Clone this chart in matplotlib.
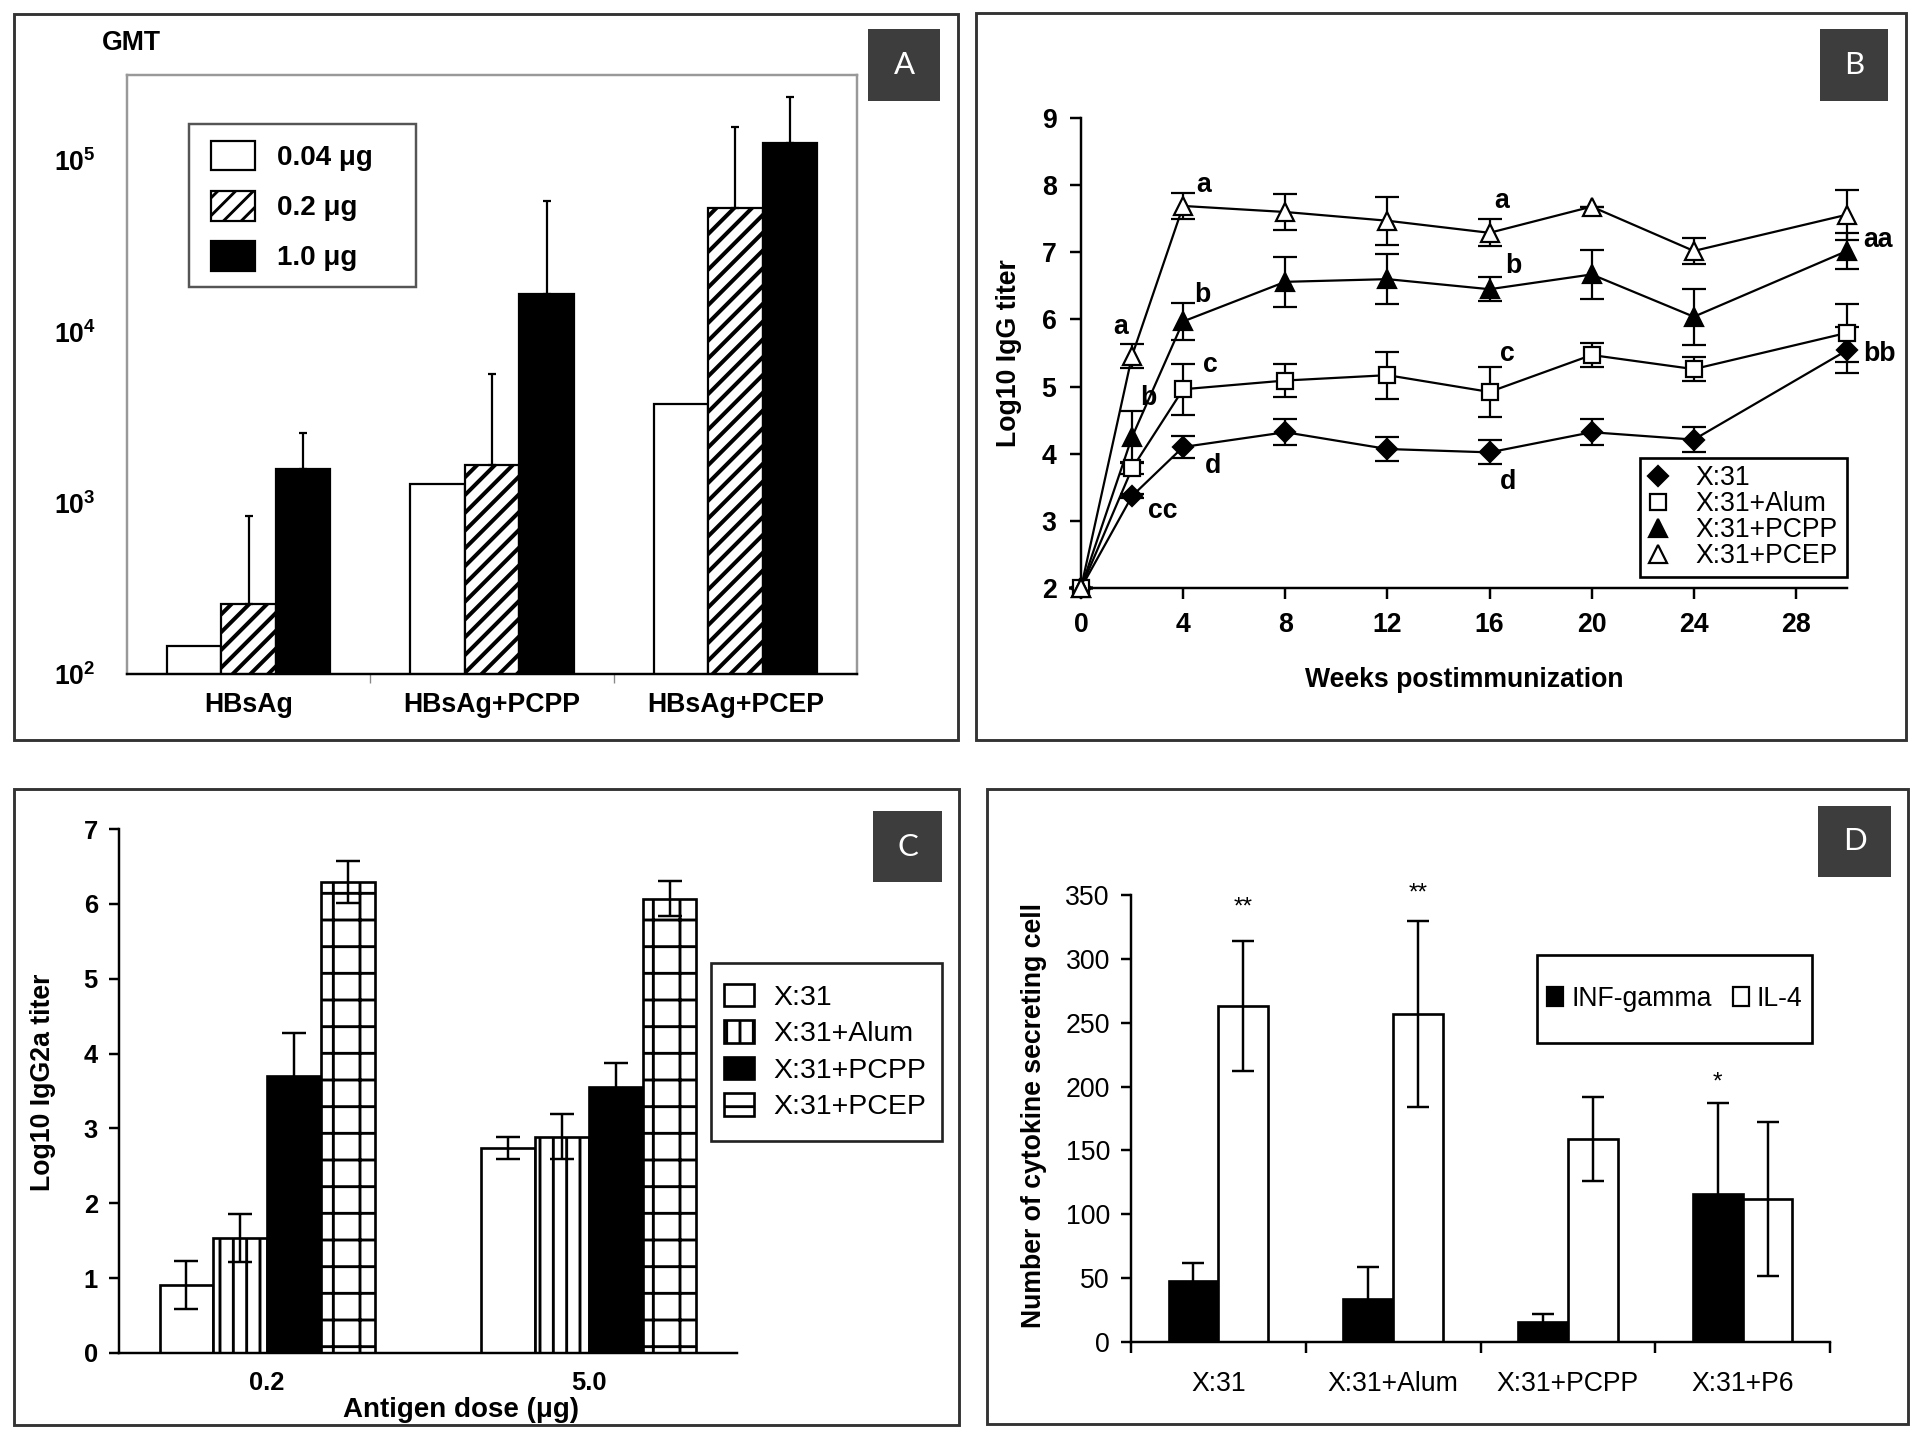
import matplotlib
matplotlib.use('Agg')
import matplotlib.pyplot as plt
from matplotlib.patches import Rectangle, Patch
from matplotlib.lines import Line2D
from matplotlib.ticker import NullLocator
import numpy as np

plt.rcParams['font.family'] = ['Liberation Sans', 'DejaVu Sans']
plt.rcParams['mathtext.fontset'] = 'custom'
plt.rcParams['mathtext.rm'] = 'Liberation Sans'
plt.rcParams['mathtext.bf'] = 'Liberation Sans:bold'
plt.rcParams['hatch.linewidth'] = 1.3

# ---- panel A : GMT per dose (log scale) ----
a_groups = ['HBsAg', 'HBsAg+PCPP', 'HBsAg+PCEP']
a_doses = ['0.04 μg', '0.2 μg', '1.0 μg']
a_gmt_004 = [145, 1290, 3780]
a_gmt_02 = [258, 1660, 53000]
a_gmt_10 = [1580, 16500, 126000]
a_top_02 = [835, 5690, 157800]
a_top_10 = [2570, 58300, 234000]

# ---- panel B : IgG titer over time ----
weeks = [0, 2, 4, 8, 12, 16, 20, 24, 30]
b_names = ['X:31', 'X:31+Alum', 'X:31+PCPP', 'X:31+PCEP']
b_x31 = [2.0, 3.37, 4.10, 4.32, 4.07, 4.02, 4.32, 4.21, 5.54]
b_x31_err = [0, 0.03, 0.17, 0.19, 0.18, 0.18, 0.19, 0.19, 0.34]
b_alum = [2.0, 3.78, 4.96, 5.09, 5.17, 4.92, 5.47, 5.26, 5.80]
b_alum_err = [0, 0.08, 0.38, 0.24, 0.35, 0.37, 0.18, 0.18, 0.43]
b_pcpp = [2.0, 4.25, 5.97, 6.56, 6.60, 6.45, 6.67, 6.04, 7.02]
b_pcpp_err = [0, 0.38, 0.27, 0.37, 0.37, 0.18, 0.36, 0.42, 0.27]
b_pcep = [2.0, 5.46, 7.69, 7.60, 7.47, 7.29, 7.68, 7.02, 7.56]
b_pcep_err = [0, 0.18, 0.2, 0.27, 0.36, 0.2, 0.0, 0.2, 0.37]
b_letters = [('a', 4.81, 8.0), ('a', 1.55, 5.88), ('a', 16.49, 7.77),
             ('b', 4.77, 6.36), ('b', 2.62, 4.83), ('b', 16.92, 6.79),
             ('c', 5.05, 5.32), ('c', 16.68, 5.49),
             ('d', 5.17, 3.82), ('d', 16.73, 3.58),
             ('cc', 3.22, 3.15), ('aa', 31.2, 7.18), ('bb', 31.26, 5.49)]

# ---- panel C : IgG2a titer ----
c_doses = ['0.2', '5.0']
c_x31 = [0.91, 2.74]
c_x31_err = [0.32, 0.15]
c_alum = [1.54, 2.89]
c_alum_err = [0.32, 0.30]
c_pcpp = [3.70, 3.55]
c_pcpp_err = [0.57, 0.33]
c_pcep = [6.29, 6.07]
c_pcep_err = [0.28, 0.23]

# ---- panel D : cytokine secreting cells ----
d_groups = ['X:31', 'X:31+Alum', 'X:31+PCPP', 'X:31+P6']
d_ifn = [48, 34, 16, 116]
d_ifn_err = [14, 25, 6, 71]
d_il4 = [263, 257, 159, 112]
d_il4_err = [51, 73, 33, 60]
d_stars = [('**', 0, 'il4', 340), ('**', 1, 'il4', 351), ('*', 3, 'ifn', 203)]

W, H = 1920, 1441
DPI = 160
fig = plt.figure(figsize=(W / DPI, H / DPI), dpi=DPI)
FS = 12


def ax_at(l, t, r, b):
    return fig.add_axes([l / W, 1 - b / H, (r - l) / W, (b - t) / H])


def rect(l, t, r, b, **kw):
    fig.add_artist(Rectangle((l / W, 1 - b / H), (r - l) / W, (b - t) / H,
                             transform=fig.transFigure, **kw))


def label_box(l, t, r, b, letter):
    rect(l, t, r, b, facecolor='#3d3d3d', edgecolor='none')
    fig.text((l + r) / 2 / W, 1 - (t + b) / 2 / H, letter, color='white',
             fontsize=14, ha='center', va='center', family='Lato')


def bold_ticks(ax, size=FS):
    for t in ax.get_xticklabels() + ax.get_yticklabels():
        t.set_fontweight('bold')
        t.set_fontsize(size)


# frames around the panels
for box in [(14, 14, 958, 740), (976, 13, 1906, 740),
            (14, 789, 959, 1425), (987, 789, 1908, 1424)]:
    rect(*box, fill=False, edgecolor='#333333', lw=1.3)

# ================= A =================
axA = ax_at(127, 75, 857, 674)
axA.set_yscale('log')
xa = np.arange(len(a_groups))
bw = 0.224
with plt.rc_context({'hatch.linewidth': 1.8}):
    axA.bar(xa - bw, a_gmt_004, bw, color='white', edgecolor='black', lw=1)
    axA.bar(xa, a_gmt_02, bw, color='white', edgecolor='black', lw=1, hatch='///')
    axA.bar(xa + bw, a_gmt_10, bw, color='black', edgecolor='black', lw=1)
axA.errorbar(xa, a_gmt_02, yerr=[np.zeros(3), np.array(a_top_02) - np.array(a_gmt_02)],
             fmt='none', ecolor='black', elinewidth=1, capsize=2)
axA.errorbar(xa + bw, a_gmt_10, yerr=[np.zeros(3), np.array(a_top_10) - np.array(a_gmt_10)],
             fmt='none', ecolor='black', elinewidth=1, capsize=2)
axA.set_xlim(-0.5, 2.5)
axA.set_ylim(100, 10 ** 5.5)
axA.set_yticks([1e2, 1e3, 1e4, 1e5])
axA.set_yticklabels([r'$\mathbf{10^{%d}}$' % k for k in range(2, 6)])
axA.yaxis.set_minor_locator(NullLocator())
axA.set_xticks(xa)
axA.set_xticklabels(a_groups)
axA.set_xticks([0.5, 1.5], minor=True)
axA.tick_params(axis='y', length=0, pad=14)
axA.tick_params(axis='x', which='major', length=0, pad=8)
axA.tick_params(axis='x', which='minor', length=4, color='#888888')
for s in ['top', 'right', 'left']:
    axA.spines[s].set_color('#999999')
axA.spines['bottom'].set_color('black')
for s in axA.spines.values():
    s.set_linewidth(1.1)
bold_ticks(axA)
fig.text(131 / W, 1 - 43 / H, 'GMT', fontsize=FS, fontweight='bold', ha='center', va='center')
rect(189, 124, 416, 287, fill=False, edgecolor='#555555', lw=1.1)
a_handles = [Patch(facecolor='white', edgecolor='black', lw=1),
             Patch(facecolor='white', edgecolor='black', lw=1, hatch='///'),
             Patch(facecolor='black', edgecolor='black', lw=1)]
fig.legend(a_handles, a_doses, loc='center left', bbox_to_anchor=(211 / W, 1 - 206 / H),
           frameon=False, borderpad=0, borderaxespad=0, handlelength=1.57, handleheight=1.27,
           handletextpad=0.8, labelspacing=0.72, prop={'weight': 'bold', 'size': 12.5})
label_box(868, 29, 940, 101, 'A')

# ================= B =================
axB = ax_at(1081, 118, 1847, 588)
series = [(b_x31, b_x31_err, 'D', 'black', 6.2),
          (b_alum, b_alum_err, 's', 'white', 7.5),
          (b_pcpp, b_pcpp_err, '^', 'black', 8.5),
          (b_pcep, b_pcep_err, '^', 'white', 8.5)]
b_handles = []
for vals, err, mk, fc, ms in series:
    axB.errorbar(weeks, vals, yerr=err, color='black', lw=1.0, elinewidth=1.0,
                 capsize=5.5, capthick=1.0, marker=mk, mfc=fc, mec='black',
                 mew=1.0, ms=ms, clip_on=False, zorder=3)
    b_handles.append(Line2D([], [], ls='none', marker=mk, mfc=fc, mec='black', mew=1.0, ms=ms))
for txt, x, y in b_letters:
    axB.text(x, y, txt, fontsize=FS, fontweight='bold', ha='center', va='center')
axB.set_xlim(0, 30)
axB.set_ylim(2, 9)
axB.set_xticks(range(0, 29, 4))
axB.set_yticks(range(2, 10))
axB.spines['top'].set_visible(False)
axB.spines['right'].set_visible(False)
for s in ['left', 'bottom']:
    axB.spines[s].set_linewidth(1.1)
axB.tick_params(length=5, width=1.1, pad=6)
bold_ticks(axB)
axB.set_xlabel('Weeks postimmunization', fontsize=FS, fontweight='bold', labelpad=13)
axB.set_ylabel('Log10 IgG titer', fontsize=FS, fontweight='bold', labelpad=9)
rect(1640, 458, 1847, 577, facecolor='white', edgecolor='black', lw=1.2, zorder=5)
fig.legend(b_handles, b_names, loc='center left', bbox_to_anchor=(1650 / W, 1 - 517 / H),
           frameon=False, borderpad=0, borderaxespad=0, handlelength=0.6, handletextpad=1.1,
           labelspacing=0.0, fontsize=12).set_zorder(6)
label_box(1820, 29, 1888, 101, 'B')

# ================= C =================
axC = ax_at(119, 829, 737, 1353)
xc = np.arange(len(c_doses))
cw = 0.167
offs = [-1.5 * cw, -0.5 * cw, 0.5 * cw, 1.5 * cw]
c_series = [(c_x31, c_x31_err, 'white', None), (c_alum, c_alum_err, 'white', '||'),
            (c_pcpp, c_pcpp_err, 'black', None), (c_pcep, c_pcep_err, 'white', '+')]
for (vals, err, fc, hatch), off in zip(c_series, offs):
    axC.bar(xc + off, vals, cw, color=fc, edgecolor='black', lw=1.2, hatch=hatch)
    axC.errorbar(xc + off, vals, yerr=err, fmt='none', ecolor='black',
                 elinewidth=1.1, capsize=5.5, capthick=1.1)
axC.set_xlim(-0.46, 1.46)
axC.set_ylim(0, 7)
axC.set_xticks(xc)
axC.set_xticklabels(c_doses)
axC.set_yticks(range(0, 8))
axC.spines['top'].set_visible(False)
axC.spines['right'].set_visible(False)
for s in ['left', 'bottom']:
    axC.spines[s].set_linewidth(1.1)
axC.tick_params(axis='y', length=4.5, width=1.1, pad=5)
axC.tick_params(axis='x', length=0, pad=8)
bold_ticks(axC, 11.5)
fig.text(461 / W, 1 - 1410 / H, 'Antigen dose (μg)', fontsize=12.5, fontweight='bold',
         ha='center', va='center')
fig.text(43 / W, 1 - 1082 / H, 'Log10 IgG2a titer', fontsize=FS, fontweight='bold',
         ha='center', va='center', rotation=90)
rect(711, 963, 942, 1141, facecolor='white', edgecolor='#222222', lw=1.2)
c_handles = [Patch(facecolor='white', edgecolor='black', lw=1.2),
             Patch(facecolor='white', edgecolor='black', lw=1.2, hatch='||'),
             Patch(facecolor='black', edgecolor='black', lw=1.2),
             Patch(facecolor='white', edgecolor='black', lw=1.2, hatch='-')]
fig.legend(c_handles, b_names, loc='center left', bbox_to_anchor=(724 / W, 1 - 1052 / H),
           frameon=False, borderpad=0, borderaxespad=0, handlelength=1.05, handleheight=0.85,
           handletextpad=0.7, labelspacing=0.33, fontsize=12.8)
label_box(873, 811, 942, 882, 'C')

# ================= D =================
axD = ax_at(1131, 895, 1830, 1342)
xd = np.arange(len(d_groups))
dw = 0.285
axD.bar(xd - dw / 2, d_ifn, dw, color='black', edgecolor='black', lw=1.2)
axD.bar(xd + dw / 2, d_il4, dw, color='white', edgecolor='black', lw=1.2)
axD.errorbar(xd - dw / 2, d_ifn, yerr=d_ifn_err, fmt='none', ecolor='black',
             elinewidth=1.1, capsize=5, capthick=1.1)
axD.errorbar(xd + dw / 2, d_il4, yerr=d_il4_err, fmt='none', ecolor='black',
             elinewidth=1.1, capsize=5, capthick=1.1)
for txt, i, which, y in d_stars:
    x = i + dw / 2 if which == 'il4' else i - dw / 2
    axD.text(x, y, txt, fontsize=11, ha='center', va='center')
axD.set_xlim(-0.5, 3.5)
axD.set_ylim(0, 350)
axD.set_yticks(range(0, 351, 50))
axD.set_xticks(np.arange(-0.5, 3.6, 1.0))
axD.set_xticklabels([])
axD.set_xticks(xd, minor=True)
axD.set_xticklabels(d_groups, minor=True)
axD.tick_params(axis='x', which='minor', length=0, pad=13, labelsize=12)
axD.tick_params(axis='x', which='major', length=5, width=1.1)
axD.tick_params(axis='y', length=4.5, width=1.1, pad=5, labelsize=12)
axD.spines['top'].set_visible(False)
axD.spines['right'].set_visible(False)
for s in ['left', 'bottom']:
    axD.spines[s].set_linewidth(1.1)
fig.text(1034 / W, 1 - 1116 / H, 'Number of cytokine secreting cell', fontsize=FS,
         fontweight='bold', ha='center', va='center', rotation=90)
rect(1537, 955, 1812, 1043, facecolor='white', edgecolor='black', lw=1.2)
d_handles = [Patch(facecolor='black', edgecolor='black', lw=1),
             Patch(facecolor='white', edgecolor='black', lw=1)]
fig.legend(d_handles, ['INF-gamma', 'IL-4'], loc='center left',
           bbox_to_anchor=(1547 / W, 1 - 999 / H), ncol=2, frameon=False, borderpad=0,
           borderaxespad=0, handlelength=0.6, handleheight=0.7, handletextpad=0.3,
           columnspacing=0.8, fontsize=12)
label_box(1818, 806, 1891, 877, 'D')

fig.savefig('out.png', dpi=DPI, facecolor='white')
